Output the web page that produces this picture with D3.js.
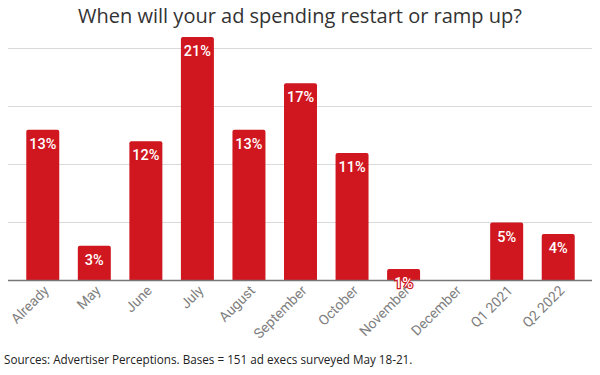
<!DOCTYPE html>
<html><head><meta charset="utf-8">
<script src="https://cdn.jsdelivr.net/npm/d3@7"></script>
<style>body{margin:0;background:#fff;} svg{display:block;}</style>
</head><body>
<script>
const categories = ["Already","May","June","July","August","September","October","November","December","Q1 2021","Q2 2022"];
const values = [13, 3, 12, 21, 13, 17, 11, 1, 0, 5, 4];
const gridTicks = [0, 5, 10, 15, 20];
const title = "When will your ad spending restart or ramp up?";
const source = "Sources: Advertiser Perceptions. Bases = 151 ad execs surveyed May 18-21.";

const W = 600, H = 375;
const svg = d3.select("body").append("svg").attr("width", W).attr("height", H);
const red = "#d0171f";

const x = d3.scaleBand().domain(categories).range([17, 584]).paddingInner(0.36).paddingOuter(0.18);
const y = d3.scaleLinear().domain([0, 20]).range([280.5, 48.5]);

svg.append("text").attr("x", 300).attr("y", 23).attr("text-anchor", "middle")
  .attr("font-family", "Open Sans").attr("font-size", 20).attr("fill", "#333").text(title);

svg.append("g").selectAll("line").data(gridTicks.filter(d => d > 0)).join("line")
  .attr("x1", 8).attr("x2", 592).attr("y1", d => y(d)).attr("y2", d => y(d))
  .attr("stroke", "#d9d9d9").attr("stroke-width", 1);

svg.append("g").selectAll("path").data(categories.map((c, i) => ({c, v: values[i]})).filter(d => d.v > 0)).join("path")
  .attr("fill", red)
  .attr("d", d => {
    const x0 = x(d.c), w = x.bandwidth(), y0 = y(d.v), y1 = y(0), r = 2;
    return `M${x0},${y1}V${y0 + r}Q${x0},${y0} ${x0 + r},${y0}H${x0 + w - r}Q${x0 + w},${y0} ${x0 + w},${y0 + r}V${y1}Z`;
  });

svg.append("line").attr("x1", 8).attr("x2", 592).attr("y1", y(0)).attr("y2", y(0))
  .attr("stroke", "#777").attr("stroke-width", 1.5);

svg.append("g").selectAll("text").data(categories.map((c, i) => ({c, v: values[i]})).filter(d => d.v > 0)).join("text")
  .attr("x", d => x(d.c) + x.bandwidth() / 2).attr("y", d => y(d.v) + 19)
  .attr("text-anchor", "middle").attr("font-family", "Roboto").attr("font-size", 14.5).attr("font-weight", 500)
  .attr("fill", "#fff").attr("stroke", red).attr("stroke-width", 2.5).attr("paint-order", "stroke")
  .text(d => d.v + "%");

const xAxis = svg.append("g").attr("transform", `translate(0,${y(0)})`)
  .call(d3.axisBottom(x).tickSize(0).tickPadding(0));
xAxis.select(".domain").remove();
xAxis.selectAll("text")
  .attr("font-family", "Roboto").attr("font-size", 14).attr("fill", "#808080")
  .attr("text-anchor", "end").attr("dy", 0)
  .attr("transform", "translate(7,11) rotate(-45)");

svg.append("text").attr("x", 4).attr("y", 364).attr("font-family", "Open Sans").attr("font-size", 11.7)
  .attr("fill", "#222").text(source);
</script>
</body></html>
